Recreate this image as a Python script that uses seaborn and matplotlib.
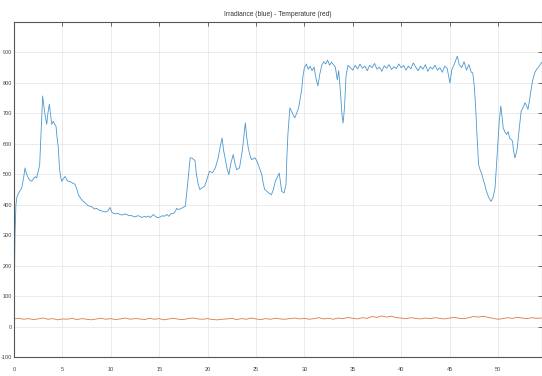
import matplotlib
matplotlib.use("Agg")
import matplotlib.pyplot as plt
import seaborn as sns
import pandas as pd

# Irradiance trace (time, W/m^2)
irr_t = [0.0, 0.05, 0.1, 0.2, 0.3, 0.5, 0.8, 1.0, 1.14, 1.3, 1.48, 1.65, 1.83, 2.0, 2.2, 2.34, 2.5, 2.65, 2.8, 2.96,
         3.1, 3.2, 3.38, 3.5, 3.65, 3.8, 3.9, 4.06, 4.2, 4.34, 4.45, 4.58, 4.7, 4.8, 4.93, 5.1, 5.27, 5.45, 5.6, 5.8,
         6.0, 6.3, 6.5, 6.64, 6.9, 7.16, 7.4, 7.6, 7.85, 8.1, 8.3, 8.54, 8.8, 9.0, 9.23, 9.5, 9.7, 9.92, 10.1, 10.26,
         10.5, 10.7, 10.95, 11.2, 11.4, 11.64, 11.9, 12.1, 12.3, 12.5, 12.8, 13.0, 13.2, 13.5, 13.7, 13.9, 14.1, 14.4, 14.6, 14.8,
         15.08, 15.3, 15.5, 15.8, 16.0, 16.2, 16.5, 16.7, 16.8, 17.0, 17.3, 17.5, 17.7, 17.85, 18.0, 18.2, 18.4, 18.7, 18.85, 19.04,
         19.2, 19.4, 19.7, 19.9, 20.2, 20.5, 20.8, 21.1, 21.3, 21.5, 21.65, 21.8, 22.0, 22.2, 22.4, 22.65, 22.8, 23.0, 23.3, 23.6,
         23.9, 24.05, 24.2, 24.4, 24.55, 24.9, 25.1, 25.3, 25.6, 25.75, 25.9, 26.1, 26.3, 26.6, 26.8, 27.0, 27.2, 27.4, 27.55, 27.65,
         27.9, 28.1, 28.2, 28.3, 28.5, 28.7, 28.85, 29.0, 29.2, 29.4, 29.55, 29.7, 29.85, 30.0, 30.2, 30.4, 30.6, 30.8, 31.0, 31.2,
         31.4, 31.6, 31.8, 32.0, 32.2, 32.4, 32.6, 32.8, 33.0, 33.2, 33.4, 33.55, 33.75, 33.9, 34.0, 34.15, 34.3, 34.5, 34.75, 35.0,
         35.25, 35.5, 35.75, 36.0, 36.25, 36.5, 36.75, 37.0, 37.25, 37.5, 37.75, 38.0, 38.25, 38.5, 38.75, 39.0, 39.25, 39.5, 39.75, 40.0,
         40.25, 40.5, 40.75, 41.0, 41.25, 41.5, 41.75, 42.0, 42.25, 42.5, 42.75, 43.0, 43.25, 43.5, 43.75, 44.0, 44.25, 44.5, 44.75, 45.04,
         45.25, 45.5, 45.8, 46.0, 46.25, 46.5, 46.75, 47.0, 47.25, 47.4, 47.55, 47.7, 47.85, 48.0, 48.15, 48.3, 48.5, 48.65, 48.8, 49.0,
         49.15, 49.3, 49.5, 49.7, 49.85, 50.0, 50.15, 50.3, 50.45, 50.55, 50.7, 50.9, 51.05, 51.2, 51.35, 51.5, 51.6, 51.75, 51.9, 52.0,
         52.2, 52.4, 52.6, 52.8, 52.95, 53.1, 53.25, 53.4, 53.6, 53.8, 54.0, 54.2, 54.4, 54.6]
irr_v = [20, 150, 300, 400, 425, 440, 455, 490, 521, 500, 488, 480, 477, 485, 492, 488, 510, 530, 640, 757,
         720, 697, 664, 700, 730, 690, 664, 674, 665, 658, 620, 587, 520, 495, 477, 485, 493, 482, 477, 476,
         472, 467, 450, 434, 420, 411, 405, 398, 395, 392, 386, 388, 382, 380, 378, 376, 380, 391, 376, 372,
         370, 372, 368, 366, 370, 368, 364, 365, 362, 360, 364, 362, 358, 362, 359, 363, 358, 368, 362, 358,
         359, 364, 362, 368, 362, 370, 372, 380, 388, 384, 388, 392, 395, 440, 487, 554, 553, 545, 500, 466,
         450, 455, 461, 480, 510, 505, 521, 554, 590, 619, 580, 554, 520, 499, 535, 565, 540, 515, 521, 580,
         669, 620, 587, 560, 548, 554, 543, 525, 499, 470, 450, 445, 439, 433, 450, 477, 490, 504, 470, 444,
         439, 466, 560, 631, 718, 705, 696, 685, 700, 718, 745, 773, 820, 850, 862, 845, 855, 840, 852, 815,
         790, 830, 858, 870, 862, 875, 858, 868, 860, 852, 810, 840, 760, 690, 668, 720, 820, 858, 850, 842,
         858, 846, 862, 848, 855, 840, 858, 850, 864, 845, 852, 838, 856, 848, 860, 844, 853, 847, 862, 850,
         857, 842, 855, 846, 866, 852, 840, 855, 845, 860, 838, 852, 846, 858, 842, 850, 835, 855, 848, 800,
         845, 862, 888, 860, 850, 870, 842, 860, 835, 833, 790, 718, 620, 532, 515, 504, 480, 466, 445, 428,
         418, 411, 425, 455, 530, 609, 680, 724, 680, 652, 640, 631, 640, 619, 615, 609, 580, 554, 570, 587,
         650, 707, 720, 735, 725, 713, 740, 773, 810, 833, 845, 852, 862, 870]

# Temperature trace (time, deg C), sampled every half unit
temp_t = [i * 0.5 for i in range(110)]
temp_v = [25, 27, 24, 26, 23, 25, 28, 24, 26, 22, 25, 24, 27, 23, 26, 24, 22, 25, 27, 24,
          26, 23, 25, 28, 24, 26, 25, 23, 27, 24, 26, 22, 25, 27, 24, 23, 26, 28, 25, 24,
          26, 23, 22, 24, 25, 27, 23, 26, 24, 28, 25, 23, 26, 24, 27, 25, 24, 26, 28, 25,
          27, 24, 26, 29, 25, 27, 24, 28, 26, 30, 27, 25, 29, 27, 33, 30, 35, 31, 34, 29,
          28, 26, 29, 27, 25, 28, 26, 29, 27, 25, 28, 30, 27, 26, 29, 33, 31, 34, 30, 27,
          24, 26, 29, 27, 30, 28, 26, 29, 27, 28]

irr = pd.DataFrame({"t": irr_t, "value": irr_v})
temp = pd.DataFrame({"t": temp_t, "value": temp_v})

sns.set_style("white")
plt.rcParams["font.family"] = ["Liberation Sans", "DejaVu Sans"]
plt.rcParams["axes.unicode_minus"] = False

fig = plt.figure(figsize=(5.42, 3.76), dpi=100)
ax = fig.add_axes([14 / 542, 1 - 357 / 376, (541.5 - 14) / 542, (357 - 22) / 376])

sns.lineplot(data=irr, x="t", y="value", ax=ax, color="#2A86C8", linewidth=0.6, alpha=0.85)
sns.lineplot(data=temp, x="t", y="value", ax=ax, color="#D95319", linewidth=0.6, alpha=0.8)

ax.set_xlim(0, 54.5)
ax.set_ylim(-100, 1000)
ax.set_xticks(range(0, 51, 5))
ax.set_yticks(range(-100, 901, 100))
ax.set_xlabel("")
ax.set_ylabel("")
ax.set_title("Irradiance (blue) - Temperature (red)", fontsize=4.8, color="#333333", pad=4)

ax.grid(True, color="#e8e8e8", linewidth=0.6)
ax.set_axisbelow(True)
for s in ax.spines.values():
    s.set_color("#555555")
    s.set_linewidth(0.8)
ax.tick_params(axis="both", which="both", direction="in", length=3, width=0.6,
               top=True, right=True, labelsize=4.0, labelcolor="#444444", color="#555555")
ax.tick_params(axis="y", pad=1.2)
ax.tick_params(axis="x", pad=7)

fig.savefig("out.png", dpi=100)
